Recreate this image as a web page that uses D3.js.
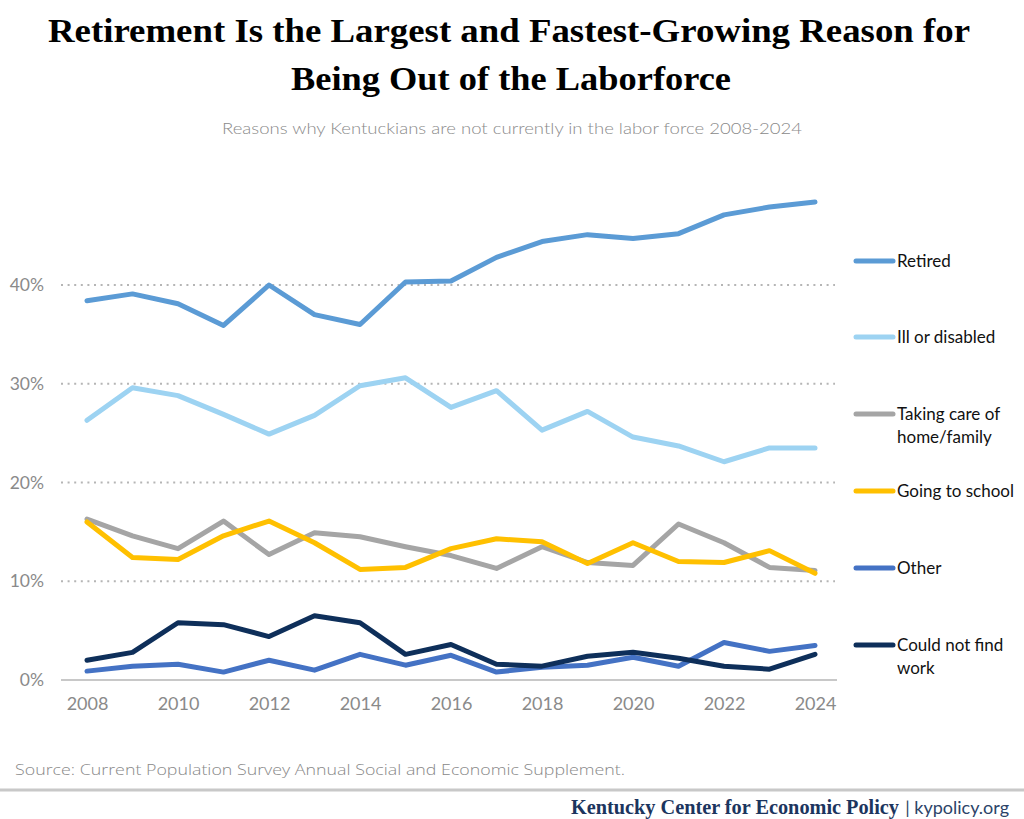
<!DOCTYPE html>
<html><head><meta charset="utf-8">
<script src="https://cdn.jsdelivr.net/npm/d3@7"></script>
<style>body{margin:0;background:#fff}svg{display:block}</style>
</head><body>
<svg id="c" width="1024" height="819"></svg>
<script>
const years = [2008,2009,2010,2011,2012,2013,2014,2015,2016,2017,2018,2019,2020,2021,2022,2023,2024];
const retired   = [38.4,39.1,38.1,35.9,40.0,37.0,36.0,40.3,40.4,42.8,44.4,45.1,44.7,45.2,47.1,47.9,48.4];
const illDisabled = [26.3,29.6,28.8,26.9,24.9,26.8,29.8,30.6,27.6,29.3,25.3,27.2,24.6,23.7,22.1,23.5,23.5];
const takingCare = [16.3,14.6,13.3,16.1,12.7,14.9,14.5,13.5,12.6,11.3,13.5,11.9,11.6,15.8,13.9,11.4,11.1];
const school    = [16.0,12.4,12.2,14.6,16.1,13.9,11.2,11.4,13.3,14.3,14.0,11.8,13.9,12.0,11.9,13.1,10.8];
const other     = [0.9,1.4,1.6,0.8,2.0,1.0,2.6,1.5,2.5,0.8,1.3,1.5,2.3,1.4,3.8,2.9,3.5];
const noWork    = [2.0,2.8,5.8,5.6,4.4,6.5,5.8,2.6,3.6,1.6,1.4,2.4,2.8,2.2,1.4,1.1,2.6];
const seriesNames = ["Retired","Ill or disabled","Taking care of|home/family","Going to school","Other","Could not find|work"];
const seriesColors = ["#5B9BD5","#9DD3F2","#A5A5A5","#FFC000","#4472C4","#0E2F5A"];
const yTicks = [0,10,20,30,40];
const xTicks = [2008,2010,2012,2014,2016,2018,2020,2022,2024];

const series = [retired, illDisabled, takingCare, school, other, noWork];
const svg = d3.select("#c");

const x = d3.scaleLinear().domain([2008,2024]).range([87,815]);
const y = d3.scaleLinear().domain([0,40]).range([680,285]);

// Title
const title = svg.append("g").attr("font-family","Liberation Serif, serif").attr("font-weight","bold")
  .attr("font-size",34).attr("fill","#000").attr("text-anchor","middle");
title.append("text").attr("x",509).attr("y",42).attr("textLength",922).attr("lengthAdjust","spacingAndGlyphs")
  .text("Retirement Is the Largest and Fastest-Growing Reason for");
title.append("text").attr("x",511).attr("y",90).attr("textLength",440).attr("lengthAdjust","spacingAndGlyphs")
  .text("Being Out of the Laborforce");

svg.append("text").attr("x",512).attr("y",134).attr("text-anchor","middle")
  .attr("font-family","Lato, sans-serif").attr("font-weight",300).attr("font-size",15.5).attr("fill","#8a8a8a")
  .attr("textLength",580).attr("lengthAdjust","spacingAndGlyphs")
  .text("Reasons why Kentuckians are not currently in the labor force 2008-2024");

// gridlines
svg.append("g").selectAll("line").data(yTicks.filter(d=>d>0)).join("line")
  .attr("x1",61).attr("x2",835).attr("y1",d=>y(d)).attr("y2",d=>y(d))
  .attr("stroke","#b5b5b5").attr("stroke-width",2.2).attr("stroke-dasharray","2,4.6");
// baseline
svg.append("line").attr("x1",61).attr("x2",837).attr("y1",y(0)).attr("y2",y(0))
  .attr("stroke","#c8c8c8").attr("stroke-width",2);

// y axis labels
const yAxis = d3.axisLeft(y).tickValues(yTicks).tickFormat(d=>d+"%").tickSize(0).tickPadding(0);
const ga = svg.append("g").attr("transform","translate(44,0)").call(yAxis);
ga.select(".domain").remove();
ga.selectAll("text").attr("font-family","Lato, sans-serif").attr("font-size",17.5).attr("fill","#8a8a8a");

const xAxis = d3.axisBottom(x).tickValues(xTicks).tickFormat(d3.format("d")).tickSize(0).tickPadding(0);
const gx = svg.append("g").attr("transform","translate(0,697)").call(xAxis);
gx.select(".domain").remove();
gx.selectAll("text").attr("font-family","Lato, sans-serif").attr("font-size",18).attr("fill","#8a8a8a");

// lines
const line = d3.line().x((d,i)=>x(years[i])).y(d=>y(d));
const order = [2,3,1,0,4,5];
order.forEach(k=>{
  svg.append("path").datum(series[k]).attr("d",line).attr("fill","none")
    .attr("stroke",seriesColors[k]).attr("stroke-width",5).attr("stroke-linejoin","round").attr("stroke-linecap","round");
});

// legend
const legY = [261,337,414,491,568,645];
const leg = svg.append("g");
seriesNames.forEach((n,i)=>{
  leg.append("line").attr("x1",856).attr("x2",893).attr("y1",legY[i]).attr("y2",legY[i])
    .attr("stroke",seriesColors[i]).attr("stroke-width",5).attr("stroke-linecap","round");
  const parts = n.split("|");
  parts.forEach((p,j)=>{
    leg.append("text").attr("x",897).attr("y",legY[i]+6+j*23).attr("font-family","Lato, sans-serif")
      .attr("font-size",17).attr("fill","#111").text(p);
  });
});

// source
svg.append("text").attr("x",15).attr("y",775).attr("font-family","Open Sans, sans-serif").attr("font-weight",300)
  .attr("font-size",15).attr("fill","#888").attr("textLength",610).attr("lengthAdjust","spacingAndGlyphs")
  .text("Source: Current Population Survey Annual Social and Economic Supplement.");
svg.append("line").attr("x1",0).attr("x2",1024).attr("y1",790).attr("y2",790).attr("stroke","#c8c8c8").attr("stroke-width",3);

svg.append("text").attr("x",571).attr("y",814).attr("font-family","Liberation Serif, serif").attr("font-weight","bold")
  .attr("font-size",20).attr("fill","#1c355e").attr("textLength",328).attr("lengthAdjust","spacingAndGlyphs")
  .text("Kentucky Center for Economic Policy");
svg.append("text").attr("x",1009).attr("y",814).attr("text-anchor","end").attr("font-family","Lato, sans-serif")
  .attr("font-size",18).attr("fill","#2c4468").text("| kypolicy.org");
</script>
</body></html>
